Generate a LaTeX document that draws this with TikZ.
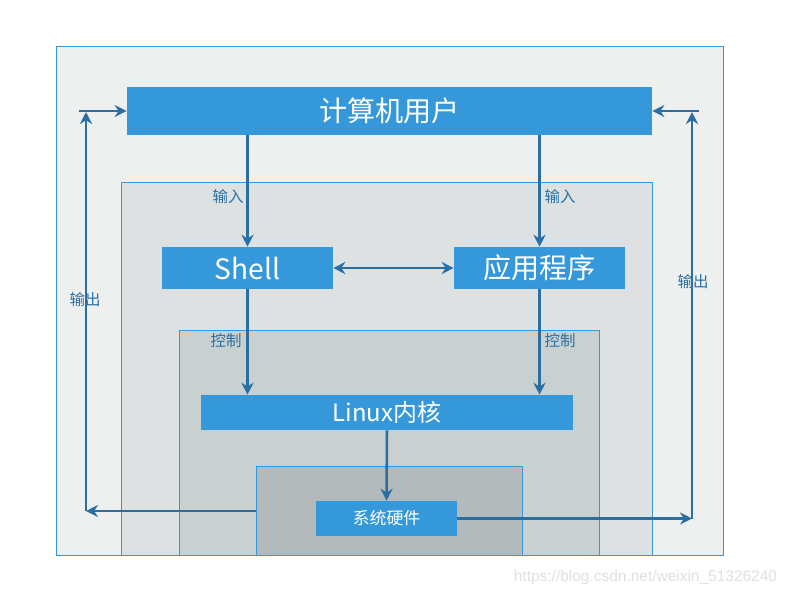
\documentclass[tikz,border=0pt]{standalone}
\usepackage{fontspec}
\setmainfont{Noto Sans CJK SC}
\newfontfamily\markfont{Liberation Sans}
\usepackage{xcolor}
\usepackage{tikz}
\usetikzlibrary{positioning, arrows.meta, calc}

\definecolor{boxblue}{HTML}{3498DB}
\definecolor{flowblue}{HTML}{2A6FA3}
\definecolor{layerA}{HTML}{EEF0EF}
\definecolor{layerB}{HTML}{DDE1E1}
\definecolor{layerC}{HTML}{C8D1D0}
\definecolor{layerD}{HTML}{B2BABB}

\tikzset{
  block/.style={fill=boxblue, text=white, inner sep=0pt},
  layer/.style={draw=boxblue, line width=0.6pt},
  flow/.style={draw=flowblue, line width=1.8pt, -{Stealth[length=3mm, width=3mm]}},
  twoway/.style={draw=flowblue, line width=1.8pt, {Stealth[length=3mm, width=3mm]}-{Stealth[length=3mm, width=3mm]}},
  lbl/.style={text=flowblue, font=\fontsize{11}{13}\selectfont}
}

\begin{document}
\begin{tikzpicture}[x=0.025cm, y=-0.025cm]
        \useasboundingbox[fill=white] (0,0) rectangle (790,595);

        % Layers, outside to inside
        \filldraw[layer, fill=layerA] (56,46) rectangle (723,555);
        \filldraw[layer, fill=layerB] (121,182) rectangle (652,555);
        \filldraw[layer, fill=layerC] (179,330) rectangle (599,555);
        \filldraw[layer, fill=layerD] (256,466) rectangle (522,555);

        % Blocks
        \node[block, minimum width=13.125cm, minimum height=1.2cm, font=\fontsize{20}{24}\selectfont] (user) at (389.5,111) {计算机用户};
        \node[block, minimum width=4.275cm, minimum height=1.05cm, font=\fontsize{20}{24}\selectfont] (shell) at (247.5,268) {Shell};
        \node[block, minimum width=4.275cm, minimum height=1.05cm, font=\fontsize{20}{24}\selectfont] (app) at (539.5,268) {应用程序};
        \node[block, minimum width=9.3cm, minimum height=0.875cm, font=\fontsize{17}{20}\selectfont] (kernel) at (387,412.5) {Linux内核};
        \node[block, minimum width=3.525cm, minimum height=0.875cm, font=\fontsize{12}{14}\selectfont] (hw) at (386.5,518.5) {系统硬件};

        % Free ends of the output paths
        \coordinate (lstart) at (256,511);
        \coordinate (lcorner) at (86,511);
        \coordinate (ltop) at (86,112);
        \coordinate (lin) at (79,111);
        \coordinate (rcorner) at (692,518.5);
        \coordinate (rtop) at (692,112);
        \coordinate (rin) at (699,111);

        % Input and control
        \draw[flow] (user.south -| shell) -- (shell.north);
        \draw[flow] (user.south -| app) -- (app.north);
        \draw[twoway] (shell.east) -- (app.west);
        \draw[flow] (shell.south) -- (kernel.north -| shell);
        \draw[flow] (app.south) -- (kernel.north -| app);
        \draw[flow] (kernel.south) -- (hw.north);

        % Output
        \draw[flow] (lstart) -- (lcorner);
        \draw[flow] (lcorner) -- (ltop);
        \draw[flow] (lin) -- (user.west);
        \draw[flow] (hw.east) -- (rcorner);
        \draw[flow] (rcorner) -- (rtop);
        \draw[flow] (rin) -- (user.east);

        % Labels
        \node[lbl] (inleft) at (228,197) {输入};
        \node[lbl] (inright) at (560,197) {输入};
        \node[lbl] (ctlleft) at (226,341) {控制};
        \node[lbl] (ctlright) at (560,341) {控制};
        \node[lbl] (outleft) at (85,300) {输出};
        \node[lbl] (outright) at (693,282) {输出};

        \node[text=black!12, font=\markfont\fontsize{11}{13}\selectfont, anchor=east] (mark) at (782,577) {https://blog.csdn.net/weixin\_51326240};
    \end{tikzpicture}
\end{document}
